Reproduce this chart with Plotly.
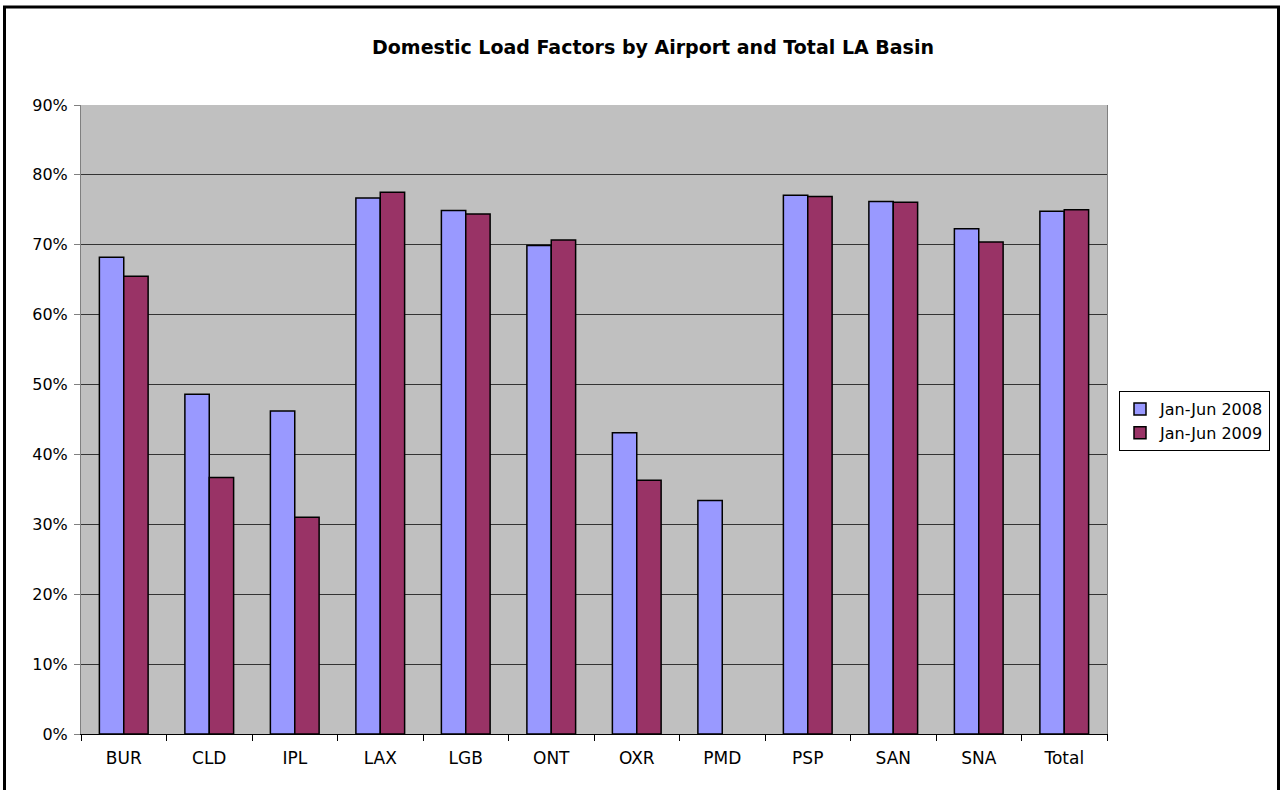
import plotly.graph_objects as go

# domestic load factors (%)
airports = ['BUR', 'CLD', 'IPL', 'LAX', 'LGB', 'ONT', 'OXR', 'PMD', 'PSP', 'SAN', 'SNA', 'Total']
lf_2008 = [68.2, 48.6, 46.2, 76.7, 74.9, 69.9, 43.1, 33.4, 77.1, 76.2, 72.3, 74.8]
lf_2009 = [65.5, 36.7, 31.0, 77.5, 74.4, 70.7, 36.3, None, 76.9, 76.1, 70.4, 75.0]
series_names = ['Jan-Jun 2008', 'Jan-Jun 2009']
y_ticks = [0, 10, 20, 30, 40, 50, 60, 70, 80, 90]
y_tick_text = [str(t) + '%' for t in y_ticks]

W, H = 1287, 790
L, R, T, B = 81, 180, 105, 56
pw, ph = W - L - R, H - T - B

fig = go.Figure()
fig.add_trace(go.Bar(x=airports, y=lf_2008, name=series_names[0],
                     marker=dict(color='#9999FF', line=dict(color='black', width=1.5))))
fig.add_trace(go.Bar(x=airports, y=lf_2009, name=series_names[1],
                     marker=dict(color='#993366', line=dict(color='black', width=1.5))))

fig.update_layout(
    width=W, height=H,
    margin=dict(l=L, r=R, t=T, b=B),
    paper_bgcolor='white', plot_bgcolor='#C0C0C0',
    font=dict(family='DejaVu Sans, Liberation Sans, sans-serif', size=16, color='black'),
    title=dict(text='<b>Domestic Load Factors by Airport and Total LA Basin</b>',
               x=(653 - L) / pw, xref='paper', xanchor='center', y=1 - 47 / H, yanchor='middle',
               font=dict(size=19, color='black')),
    barmode='group', bargap=0.43, bargroupgap=0,
    showlegend=True,
    legend=dict(x=(1119 - L) / pw, xanchor='left', y=(H - B - 421) / ph, yanchor='middle',
                bgcolor='white', bordercolor='black', borderwidth=1,
                font=dict(size=16), tracegroupgap=0, itemwidth=30),
    hovermode=False,
)
fig.update_xaxes(showgrid=False, showline=True, linecolor='black', linewidth=1,
                 ticks='outside', ticklen=6, tickcolor='black', tickson='boundaries',
                 ticklabelstandoff=9, tickfont=dict(size=17))
fig.update_yaxes(range=[0, 90], tickvals=y_ticks, ticktext=y_tick_text,
                 showgrid=True, gridcolor='#333333', gridwidth=1,
                 showline=True, linecolor='#808080', linewidth=1, mirror=True,
                 ticks='outside', ticklen=6, tickcolor='#808080',
                 ticklabelstandoff=3, zeroline=False, tickfont=dict(size=16))

# outer chart border
fig.add_shape(type='rect', xref='paper', yref='paper',
              x0=(4.5 - L) / pw, x1=(1278.5 - L) / pw,
              y0=(H - B - 800) / ph, y1=(H - B - 7) / ph,
              line=dict(color='black', width=3), fillcolor='rgba(0,0,0,0)', layer='above')

fig.write_html('out.html', config={'displayModeBar': False},
               post_script="document.body.style.margin='0';")
